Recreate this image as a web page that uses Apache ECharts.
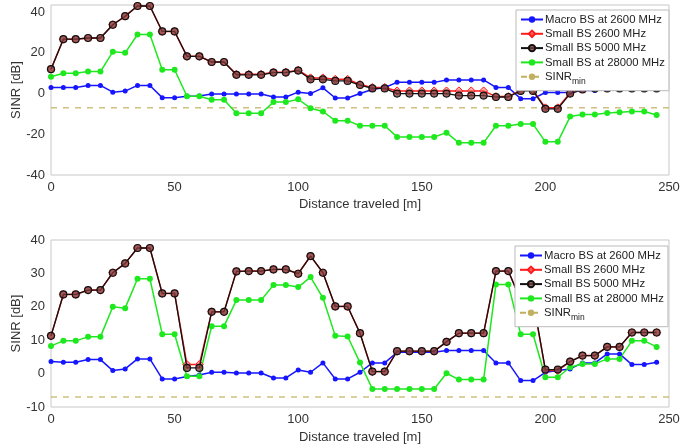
<!DOCTYPE html>
<html>
<head>
<meta charset="utf-8">
<script src="https://cdn.jsdelivr.net/npm/echarts@6/dist/echarts.min.js"></script>
<style>
html,body{margin:0;padding:0;background:#fff;}
#c{width:699px;height:447px;}
</style>
</head>
<body>
<div id="c"></div>
<script>
// Distance traveled [m]
const distance = [0,5,10,15,20,25,30,35,40,45,50,55,60,65,70,75,80,85,90,95,100,105,110,115,120,125,130,135,140,145,150,155,160,165,170,175,180,185,190,195,200,205,210,215,220,225,230,235,240,245];

// Top plot
const topMacro2600 = [3,3,3,4,4,0.7,1.2,4,4,-2, -2,-1.3,-1.2,-0.2,-0.2,-0.2,-0.2,-0.2,-1.7,-1.7, 0.7,0,2.8,-2.2,-2.2,0,2,3,5.5,5.5, 5.5,5.5,6.7,6.7,6.7,6.7,3,3,-2.5,-2.5, 0.5,0.5,0.5,1.5,1.5,2,2,2,2,2];
const topSmall2600 = [12,26.7,26.7,27.3,27.3,33.8,38,43,43,30.5, 30.5,18.3,18.3,15.5,15.5,9.5,9.5,9.5,10.5,10.5, 11.5,7.7,7.7,7,7,4.5,3,3,1.3,1.3, 1.3,1.3,1.3,1.3,1.3,1.3,-1.5,-1.5,1.7,1.7, -7,-7,0.3,2.3,3,3,3,3,3,3];
const topSmall5000 = [12,26.7,26.7,27.3,27.3,33.8,38,43,43,30.5, 30.5,18.3,18.3,15.5,15.5,9.2,9.2,9.2,10.3,10.3, 11.3,7,7,6.2,6.2,4.2,2.5,2.5,0,0, 0,0,0,-1,-1,-1,-1.7,-1.7,1.3,1.3, -7.5,-7.5,0,2,2.5,2.5,2.5,2.5,2.5,2.5];
const topSmall28000 = [8.3,10,10,10.8,10.8,20.5,20,29,29,11.7, 11.7,-1.3,-1.3,-3,-3,-9.7,-9.7,-9.7,-4.2,-4.2, -2.8,-7.2,-8.8,-13.3,-13.3,-15.8,-15.8,-15.8,-21.3,-21.3, -21.3,-21.3,-19.2,-24.2,-24.2,-24.2,-15.8,-15.8,-15,-15, -23.7,-23.7,-11.3,-10.3,-10.3,-9.5,-9.2,-8.8,-8.8,-10.5];

// Bottom plot
const botMacro2600 = [3.6,3.4,3.4,4.2,4.2,0.9,1.4,4.4,4.4,-1.6, -1.6,-0.9,-0.4,0.4,0.4,0.2,0.2,0.2,-1.3,-1.3, 1.1,0.4,3.2,-1.6,-1.6,0.4,3.2,3.2,6.4,6.4, 6.4,6.4,6.9,6.9,6.9,6.9,3.2,3.2,-2.1,-2.1, 0.4,0.9,1.4,3.2,3.2,5.9,5.9,2.7,2.7,3.4];
const botSmall2600 = [11.3,23.7,23.7,25,25,30.2,33,37.6,37.6,24, 24,2.7,2.7,18.5,18.5,30.6,30.7,30.7,31.2,31.2, 29.9,35.2,30.2,20.1,20.1,12.1,0.6,0.6,6.7,6.7, 6.7,6.7,9.5,12.1,12.1,12.1,30.7,30.7,22,22, 0.9,0.9,3.6,5.4,5.4,8,8,12.3,12.3,12.3];
const botSmall5000 = [11.3,23.7,23.7,25,25,30.2,33,37.6,37.6,24, 24,1.7,1.7,18.5,18.5,30.6,30.7,30.7,31.2,31.2, 29.9,35.2,30.2,20.1,20.1,12.1,0.6,0.6,6.7,6.7, 6.7,6.7,9.5,12.1,12.1,12.1,30.7,30.7,22,22, 1.2,1.2,3.6,5.4,5.4,8,8,12.3,12.3,12.3];
const botSmall28000 = [8.3,9.8,9.8,11,11,20,19.6,28.4,28.4,11.8, 11.8,-0.8,-0.8,14.2,14.2,22,22,22,26.5,26.5, 25.9,28.9,22.7,11.3,11.1,3.3,-4.6,-4.6,-4.6,-4.6, -4.6,-4.6,0.1,-1.8,-1.8,-1.8,26.7,26.7,11.8,11.8, -1.1,-1.1,1.9,2.9,2.9,4.4,4.4,9.8,9.8,8];

// SINR_min threshold
const sinrMinX = [0, 250];
const sinrMinY = [-7, -7];

const names = ['Macro BS at 2600 MHz','Small BS 2600 MHz','Small BS 5000 MHz','Small BS at 28000 MHz','SINR_min'];
const FONT = 'Liberation Sans, Arial, sans-serif';

function pairs(xs, ys){ return xs.map((x,i)=>[x, ys[i]]); }

function seriesFor(idx, macro, s2600, s5000, s28000){
  return [
    {name:names[0], type:'line', xAxisIndex:idx, yAxisIndex:idx, data:pairs(distance, macro),
     symbol:'circle', symbolSize:5, lineStyle:{color:'#1515ff', width:1.5},
     itemStyle:{color:'#1515ff'}, z:3},
    {name:names[1], type:'line', xAxisIndex:idx, yAxisIndex:idx, data:pairs(distance, s2600),
     symbol:'diamond', symbolSize:8, lineStyle:{color:'#ff1a1a', width:1.5},
     itemStyle:{color:'rgba(255,120,120,0.6)', borderColor:'#ff1a1a', borderWidth:1}, z:3},
    {name:names[2], type:'line', xAxisIndex:idx, yAxisIndex:idx, data:pairs(distance, s5000),
     symbol:'circle', symbolSize:7, lineStyle:{color:'#111', width:1.3},
     itemStyle:{color:'rgba(130,60,60,0.75)', borderColor:'#111', borderWidth:1.2}, z:4},
    {name:names[3], type:'line', xAxisIndex:idx, yAxisIndex:idx, data:pairs(distance, s28000),
     symbol:'circle', symbolSize:6, lineStyle:{color:'#1ee81e', width:1.5},
     itemStyle:{color:'#1ee81e'}, z:3},
    {name:names[4], type:'line', xAxisIndex:idx, yAxisIndex:idx, data:pairs(sinrMinX, sinrMinY),
     symbol:'none', lineStyle:{color:'#c2b060', width:1.2, type:[6,6]},
     itemStyle:{color:'#c2b060'}, z:2}
  ];
}

function legendFor(left, top){
  return {
    orient:'vertical', left:left, top:top, z:20,
    itemWidth:22, itemHeight:8, itemGap:3.3,
    backgroundColor:'#fff', borderColor:'#bbb', borderWidth:1,
    padding:[4,4,5,4], borderRadius:0,
    data:names,
    textStyle:{fontFamily:FONT, fontSize:11.3, color:'#222', padding:[0,0,0,-3],
      rich:{ sub:{fontFamily:FONT, fontSize:8.5, color:'#222', padding:[9,0,0,0]} }},
    formatter:function(n){ return n === 'SINR_min' ? 'SINR{sub|min}' : n; }
  };
}

function xAxisFor(idx){
  return {type:'value', gridIndex:idx, min:0, max:250, interval:50,
    name:'Distance traveled [m]', nameLocation:'middle', nameGap:idx===0 ? 23 : 24,
    nameMoveOverlap:false,
    nameTextStyle:{fontFamily:FONT, fontSize:13, color:'#333'},
    axisLine:{show:false}, axisTick:{show:false}, splitLine:{show:false},
    axisLabel:{fontFamily:FONT, fontSize:13, color:'#333', margin:6}};
}
function yAxisFor(idx, min, max, interval){
  return {type:'value', gridIndex:idx, min:min, max:max, interval:interval,
    name:'SINR [dB]', nameLocation:'middle', nameGap:28, nameRotate:90,
    nameMoveOverlap:false,
    nameTextStyle:{fontFamily:FONT, fontSize:13, color:'#333'},
    axisLine:{show:false}, axisTick:{show:false}, splitLine:{show:false},
    axisLabel:{fontFamily:FONT, fontSize:13, color:'#333', margin:6, showMaxLabel: idx===1,
      formatter:function(v){ return (v % interval === 0) ? String(v) : ''; }}};
}

const chart = echarts.init(document.getElementById('c'), null, {renderer:'canvas'});
chart.setOption({
  backgroundColor:'#fff',
  animation:false,
  grid:[
    {left:51, right:30, top:5, height:170, show:true, borderColor:'#c8c8c8', borderWidth:1, backgroundColor:'#fff', containLabel:false, outerBoundsMode:'none'},
    {left:51, right:30, top:240, height:167, show:true, borderColor:'#c8c8c8', borderWidth:1, backgroundColor:'#fff', containLabel:false, outerBoundsMode:'none'}
  ],
  legend:[ legendFor(516, 10), legendFor(515, 246) ],
  xAxis:[ xAxisFor(0), xAxisFor(1) ],
  yAxis:[ yAxisFor(0, -40, 43.5, 20), yAxisFor(1, -10, 40, 10) ],
  series:[].concat(
    seriesFor(0, topMacro2600, topSmall2600, topSmall5000, topSmall28000),
    seriesFor(1, botMacro2600, botSmall2600, botSmall5000, botSmall28000)
  )
});
</script>
</body>
</html>
